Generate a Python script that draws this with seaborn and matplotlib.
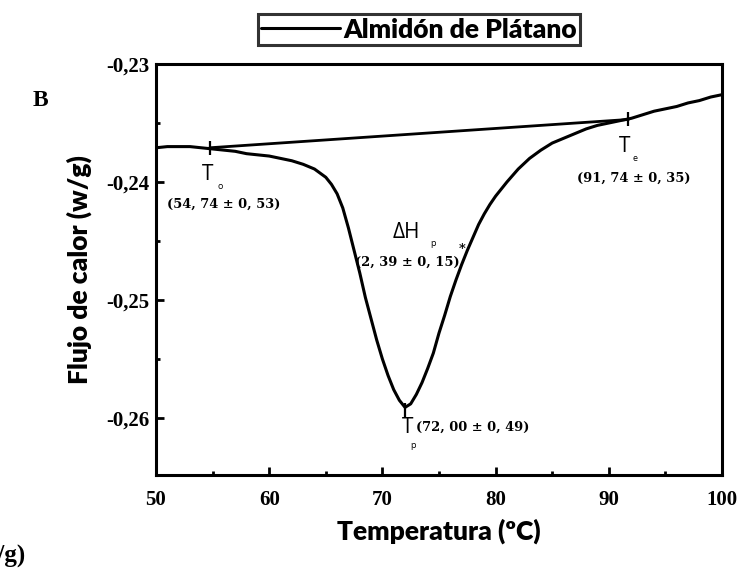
import matplotlib
matplotlib.use("Agg")
import matplotlib.pyplot as plt
from matplotlib.ticker import MultipleLocator, FuncFormatter
import seaborn as sns
import pandas as pd

# ---- data ----
temperature = [50.0, 51.0, 52.0, 53.0, 54.0, 55.0, 56.0, 57.0, 58.0, 59.0,
               60.0, 61.0, 62.0, 63.0, 64.0, 65.0, 65.5, 66.0, 66.5, 67.0, 67.5,
               68.0, 68.5, 69.0, 69.5, 70.0, 70.5, 71.0, 71.5, 72.0, 72.5,
               73.0, 73.5, 74.0, 74.5, 75.0, 75.5, 76.0, 76.5, 77.0, 77.5,
               78.0, 78.5, 79.0, 79.5, 80.0, 81.0, 82.0, 83.0, 84.0, 85.0, 86.0,
               87.0, 88.0, 89.0, 90.0, 91.0, 92.0, 93.0, 94.0, 95.0, 96.0,
               97.0, 98.0, 99.0, 100.0]
heat_flow = [-0.2371, -0.2370, -0.2370, -0.2370, -0.2371, -0.2372, -0.2373, -0.2374, -0.2376, -0.2377,
             -0.2378, -0.2380, -0.2382, -0.2385, -0.2389, -0.2396, -0.2402, -0.2410, -0.2422, -0.2439, -0.2458,
             -0.2477, -0.2498, -0.2516, -0.2534, -0.2550, -0.2564, -0.2576, -0.2585, -0.2591, -0.2588,
             -0.2580, -0.2570, -0.2558, -0.2545, -0.2528, -0.2513, -0.2497, -0.2483, -0.2470, -0.2458,
             -0.2447, -0.2436, -0.2427, -0.2419, -0.2412, -0.2400, -0.2389, -0.2380, -0.2373, -0.2367, -0.2363,
             -0.2359, -0.2355, -0.2352, -0.2350, -0.2348, -0.2346, -0.2343, -0.2340, -0.2338, -0.2336,
             -0.2333, -0.2331, -0.2328, -0.2326]

baseline_x = [54.74, 91.74]
baseline_y = [-0.2371, -0.2347]

point_names = ["o", "p", "e"]
point_x = [54.74, 72.00, 91.74]
point_y = [-0.2371, -0.2593, -0.2347]

labels_main = ["(54, 74 ± 0, 53)", "(72, 00 ± 0, 49)", "(91, 74 ± 0, 35)"]
dh_label = "(2, 39 ± 0, 15)"

series_name = "Almidón de Plátano"
x_ticks = [50, 60, 70, 80, 90, 100]
y_ticks = [-0.26, -0.25, -0.24, -0.23]

# ---- style ----
sns.set_theme(style="white")
plt.rcParams["font.family"] = ["Lato", "DejaVu Sans"]
plt.rcParams["axes.unicode_minus"] = False
for k in ["text.color", "axes.labelcolor", "xtick.color", "ytick.color", "axes.edgecolor"]:
    plt.rcParams[k] = "black"

W, H = 739, 571
fig = plt.figure(figsize=(W / 100, H / 100), dpi=100)
L, R, T, B = 156, 722, 64, 475
ax = fig.add_axes([L / W, 1 - B / H, (R - L) / W, (B - T) / H])

curve = pd.DataFrame({"T": temperature, "Q": heat_flow})
base = pd.DataFrame({"T": baseline_x, "Q": baseline_y})
sns.lineplot(data=curve, x="T", y="Q", ax=ax, color="black", linewidth=2.2,
             label=series_name, legend=False)
sns.lineplot(data=base, x="T", y="Q", ax=ax, color="black", linewidth=2.0, legend=False)

# small vertical markers at To, Tp, Te
ax.scatter(point_x, point_y, marker="|", s=110, color="black", linewidths=1.6, zorder=5)

ax.set_xlim(50, 100)
ax.set_ylim(-0.26483, -0.23)
ax.set_xticks(x_ticks)
ax.set_yticks(y_ticks)
ax.xaxis.set_minor_locator(MultipleLocator(5))
ax.yaxis.set_minor_locator(MultipleLocator(0.005))
ax.yaxis.set_major_formatter(FuncFormatter(lambda v, p: f"{v:.2f}".replace(".", ",")))
ax.tick_params(axis="both", which="major", direction="in", length=6, width=2,
               bottom=True, left=True, top=False, right=False, labelsize=15,
               labelfontfamily="Liberation Serif")
ax.tick_params(axis="both", which="minor", direction="in", length=3, width=2,
               bottom=True, left=True, top=False, right=False)
ax.tick_params(axis="x", which="major", pad=11)
ax.tick_params(axis="y", which="major", pad=5)
for sp in ax.spines.values():
    sp.set_linewidth(2.2)
    sp.set_color("black")

ax.set_xlabel("Temperatura (ºC)", fontfamily=["Lato", "DejaVu Sans"],
              fontweight="heavy", fontsize=19, labelpad=6)
ax.set_ylabel("Flujo de calor (w/g)", fontfamily=["Lato", "DejaVu Sans"],
              fontweight="heavy", fontsize=19, labelpad=10)

# annotations
tfont = dict(fontfamily=["Open Sans", "DejaVu Sans"], fontsize=15, color="black")
sfont = dict(fontfamily=["Open Sans", "DejaVu Sans"], fontsize=6.5, color="black")
nfont = dict(fontfamily=["DejaVu Serif"], fontweight="bold", fontsize=9.4, color="black")

# T_o
ax.text(54.6, -0.2394, "T", ha="center", va="center", **tfont)
ax.text(55.65, -0.2404, point_names[0], ha="center", va="center", **sfont)
ax.text(56.0, -0.2419, labels_main[0], ha="center", va="center", **nfont)
# dH_p
ax.text(72.1, -0.2443, "ΔH", ha="center", va="center", **tfont)
ax.text(74.5, -0.2452, "p", ha="center", va="center", **sfont)
ax.text(72.2, -0.2468, dh_label, ha="center", va="center", **nfont)
ax.text(77.0, -0.2457, "*", ha="center", va="center", **nfont)
# T_p
ax.text(72.2, -0.2608, "T", ha="center", va="center", **tfont)
ax.text(72.7, -0.2623, point_names[1], ha="center", va="center", **sfont)
ax.text(78.0, -0.2608, labels_main[1], ha="center", va="center", **nfont)
# T_e
ax.text(91.4, -0.2370, "T", ha="center", va="center", **tfont)
ax.text(92.3, -0.2380, point_names[2], ha="center", va="center", **sfont)
ax.text(92.2, -0.2397, labels_main[2], ha="center", va="center", **nfont)

for lab in ax.get_xticklabels() + ax.get_yticklabels():
    lab.set_fontweight("bold")

# legend box at top
leg = fig.legend(loc="center", bbox_to_anchor=(419 / W, 1 - 29.5 / H),
                 prop={"family": ["Lato", "DejaVu Sans"], "weight": "heavy", "size": 19},
                 frameon=True, fancybox=False, handlelength=3.0, handletextpad=0.1,
                 borderpad=0.12, borderaxespad=0)
leg.get_frame().set_edgecolor("black")
leg.get_frame().set_linewidth(2.2)
for h in leg.get_lines():
    h.set_linewidth(2.2)

fig.text(40 / W, 1 - 100 / H, "B", fontfamily="Liberation Serif", fontweight="bold",
         fontsize=17, ha="center", va="center")
fig.text(26 / W, 1 - 556 / H, "(w/g)", fontfamily=["Liberation Serif"],
         fontweight="bold", fontsize=18, ha="right", va="center")

fig.savefig("out.png", dpi=100)
